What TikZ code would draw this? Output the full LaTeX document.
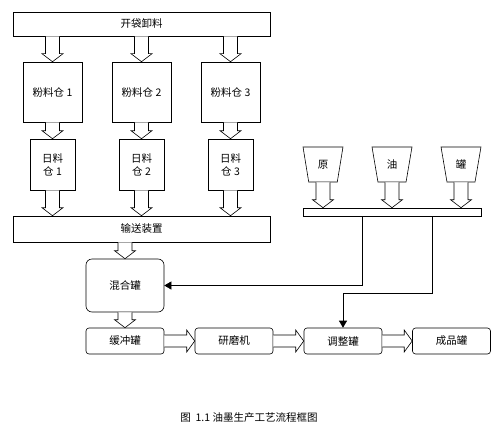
\documentclass[tikz,border=0pt]{standalone}
\usepackage{fontspec}
\setmainfont{Noto Sans CJK SC}
\usepackage{tikz}
\usetikzlibrary{shapes,arrows,arrows.meta,calc}
\tikzstyle{wide} = [draw, text centered, minimum width=257pt, minimum height=24pt, inner sep=0pt]
\tikzstyle{bin} = [draw, text centered, minimum width=59pt, minimum height=60pt, inner sep=0pt]
\tikzstyle{daily} = [draw, align=center, minimum width=45pt, minimum height=51pt, inner sep=0pt]
\tikzstyle{tank} = [draw, text centered, rounded corners=3pt, minimum width=78pt, minimum height=26pt, inner sep=0pt]
\tikzstyle{funnel} = [draw, trapezium, shape border rotate=180, trapezium stretches=true,
    trapezium angle=77, minimum width=40pt, minimum height=35pt, inner sep=0pt]
\tikzstyle{rail} = [draw, minimum width=178pt, minimum height=8pt, inner sep=0pt]
\tikzstyle{hollow} = [draw, fill=white]
\tikzset{
  line/.style ={draw, -{Triangle[length=7pt,width=8pt]}, shorten >=0pt}
}
% hollow arrow down at x of #1, from #2.south to #3.north
\newcommand{\hdown}[3]{\draw [hollow] let \p1=(#1.center), \p2=(#2.south), \p3=(#3.north) in
  (\x1-7pt,\y2) -- (\x1-7pt,\y3+8pt) -- (\x1-10.5pt,\y3+8pt) -- (\x1,\y3)
  -- (\x1+10.5pt,\y3+8pt) -- (\x1+7pt,\y3+8pt) -- (\x1+7pt,\y2);}
% hollow arrow right, from #1.east to #2.west
\newcommand{\hright}[2]{\draw [hollow] let \p1=(#1.east), \p2=(#2.west) in
  (\x1,\y1+6pt) -- (\x2-8pt,\y1+6pt) -- (\x2-8pt,\y1+11pt) -- (\x2,\y1)
  -- (\x2-8pt,\y1-11pt) -- (\x2-8pt,\y1-6pt) -- (\x1,\y1-6pt);}

\begin{document}
\begin{tikzpicture}[x=1pt, y=1pt, node distance=68pt, line width=0.6pt,
    every node/.style={font=\fontsize{10.5pt}{13pt}\selectfont}]
   \useasboundingbox (0,0) rectangle (500,-436);
   \node [wide] (unload) at (141.5,-24) {开袋卸料};
   \node [bin, below of=unload] (bin2) {粉料仓 2};
   \node [bin, left of=bin2, node distance=89pt] (bin1) {粉料仓 1};
   \node [bin, right of=bin2, node distance=89pt] (bin3) {粉料仓 3};
   \node [daily, below of=bin1, node distance=72.5pt] (daily1) {日料\\仓 1};
   \node [daily, below of=bin2, node distance=72.5pt] (daily2) {日料\\仓 2};
   \node [daily, below of=bin3, node distance=72.5pt] (daily3) {日料\\仓 3};
   \node [wide, below of=daily2, node distance=64.5pt, minimum height=26pt] (convey) {输送装置};
   \node [tank, below of=convey, node distance=56.5pt, xshift=-16.5pt, minimum height=53pt,
      rounded corners=6pt] (mixer) {混合罐};
   \node [tank, below of=mixer, node distance=55.5pt] (buffer) {缓冲罐};
   \node [tank, right of=buffer, node distance=109pt] (mill) {研磨机};
   \node [tank, right of=mill, node distance=109pt] (adjust) {调整罐};
   \node [tank, right of=adjust, node distance=108.5pt] (product) {成品罐};
   \node [rail] (rail) at (392,-212) {};
   \node [funnel, above of=rail, node distance=47.5pt] (oil) {油};
   \node [funnel, left of=oil, node distance=69pt] (raw) {原};
   \node [funnel, right of=oil, node distance=69pt] (can) {罐};
   \node (caption) at (249,-418) {图\ \ 1.1 油墨生产工艺流程框图};
   \foreach \i in {1,2,3} {
      \hdown{bin\i}{unload}{bin\i}
      \hdown{bin\i}{bin\i}{daily\i}
      \hdown{daily\i}{daily\i}{convey}
   }
   \hdown{mixer}{convey}{mixer}
   \hdown{mixer}{mixer}{buffer}
   \foreach \f in {raw,oil,can} {\hdown{\f}{\f}{rail}}
   \hright{buffer}{mill}
   \hright{mill}{adjust}
   \hright{adjust}{product}
   \coordinate (tap1) at ($(rail.south)+(-30pt,0)$);
   \coordinate (tap2) at ($(rail.south)+(40pt,0)$);
   \path [line] (tap1) |- (mixer.east);
   \path [line] (tap2) -- ++(0,-77pt) -| (adjust.north);
\end{tikzpicture}
\end{document}
